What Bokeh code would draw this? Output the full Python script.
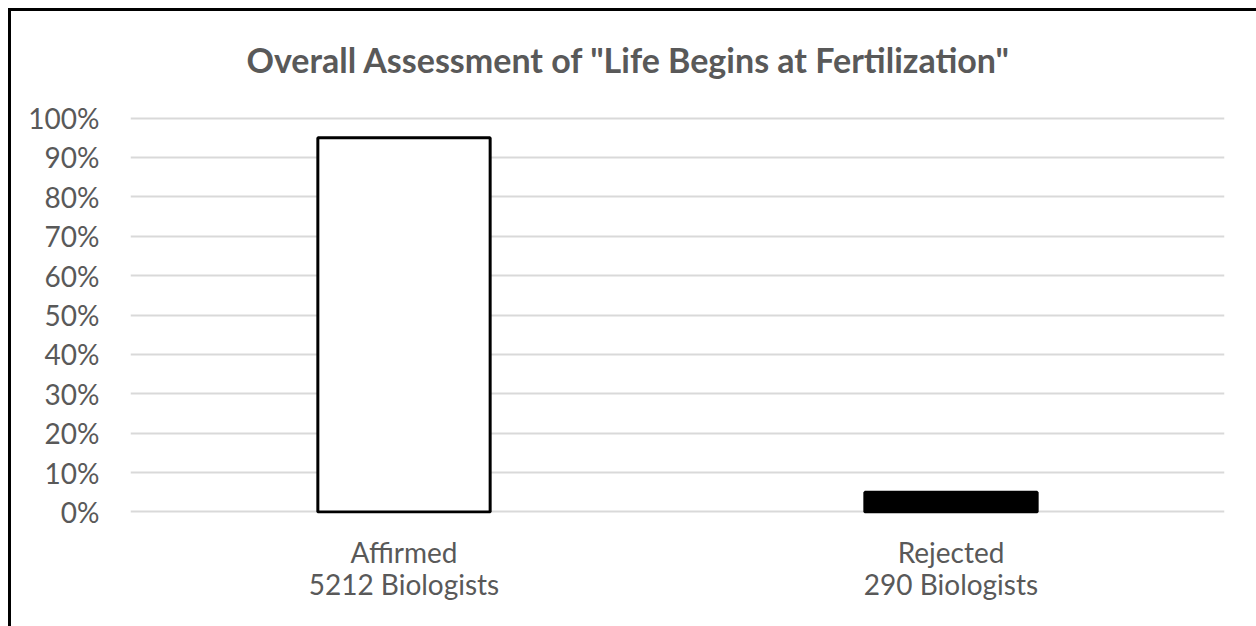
from bokeh.plotting import figure
from bokeh.models import (FactorRange, Range1d, NumeralTickFormatter, FixedTicker,
                          ColumnDataSource, CategoricalAxis)
from bokeh.embed import file_html
from bokeh.resources import INLINE

# ---- data ----
categories = ["Affirmed", "Rejected"]
counts = ["5212 Biologists", "290 Biologists"]
shares = [0.95, 0.05]
fills = ["white", "black"]
y_ticks = [0.0, 0.1, 0.2, 0.3, 0.4, 0.5, 0.6, 0.7, 0.8, 0.9, 1.0]
title_text = 'Overall Assessment of "Life Begins at Fertilization"'

FONT = "Lato"
GRAY = "#595959"

src = ColumnDataSource(dict(cat=categories, val=shares, fill=fills))

p = figure(
    x_range=FactorRange(*categories, range_padding=0.0),
    y_range=Range1d(-0.004, 1.004),
    width=1256, height=626,
    output_backend="svg", toolbar_location=None,
    min_border_left=130, min_border_right=32,
    min_border_top=116, min_border_bottom=113,
)
# chart border (top and left edges visible) painted behind a transparent canvas
p.background_fill_color = None
p.border_fill_color = None
p.styles = {"background": "linear-gradient(#000,#000) 8px 8px / 3px 100% no-repeat, "
                          "linear-gradient(#000,#000) 8px 8px / 100% 3px no-repeat, #fff"}
p.extra_x_ranges = {"counts": FactorRange(*counts, range_padding=0.0)}

p.vbar(x="cat", top="val", width=0.315, source=src,
       fill_color="fill", line_color="black", line_width=3)

p.title.text = title_text
p.title.align = "left"
p.title.offset = 116
p.title.vertical_align = "middle"
p.title.standoff = 71
p.title.text_font = FONT
p.title.text_font_size = "34px"
p.title.text_font_style = "bold"
p.title.text_color = GRAY

p.outline_line_color = None
p.xgrid.grid_line_color = None
p.ygrid.grid_line_color = "#d9d9d9"
p.ygrid.grid_line_width = 2

p.yaxis.ticker = FixedTicker(ticks=y_ticks)
p.yaxis.formatter = NumeralTickFormatter(format="0%")
p.yaxis.axis_line_color = None
p.yaxis.major_tick_line_color = None
p.yaxis.minor_tick_line_color = None
p.yaxis.major_tick_out = 0
p.yaxis.major_label_standoff = 31
p.yaxis.major_label_text_font = FONT
p.yaxis.major_label_text_font_size = "28px"
p.yaxis.major_label_text_color = GRAY

xa = p.xaxis[0]
xa.axis_line_color = None
xa.major_tick_line_color = None
xa.major_tick_out = 0
xa.major_label_standoff = 21
xa.major_label_text_font = FONT
xa.major_label_text_font_size = "28px"
xa.major_label_text_color = GRAY

xa2 = CategoricalAxis(x_range_name="counts")
xa2.axis_line_color = None
xa2.major_tick_line_color = None
xa2.major_tick_out = 0
xa2.major_label_standoff = -5
xa2.major_label_text_font = FONT
xa2.major_label_text_font_size = "28px"
xa2.major_label_text_color = GRAY
p.add_layout(xa2, "below")

open("out.html", "w").write(file_html(p, INLINE))
